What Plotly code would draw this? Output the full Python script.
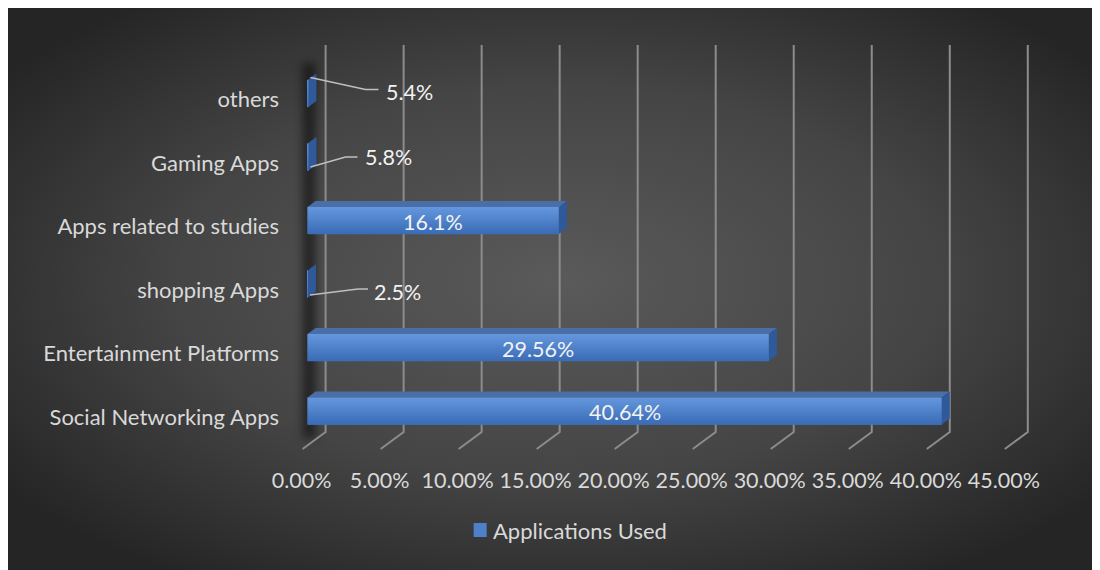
import base64
import plotly.graph_objects as go

# ---------------- data ----------------
categories = ["Social Networking Apps", "Entertainment Platforms", "shopping Apps",
              "Apps related to studies", "Gaming Apps", "others"]
label_values = [40.64, 29.56, 2.5, 16.1, 5.8, 5.4]          # values shown in the labels (%)
bar_lengths = [40.64, 29.56, 0.025, 16.1, 0.058, 0.054]     # drawn bar lengths (%), small ones near zero as in the picture
label_text = ["40.64%", "29.56%", "2.5%", "16.1%", "5.8%", "5.4%"]
tick_values = [0, 5, 10, 15, 20, 25, 30, 35, 40, 45]
tick_labels = [f"{v:.2f}%" for v in tick_values]
series_name = "Applications Used"

# ---------------- style / layout constants (figure pixels) ----------------
W, H = 1100, 570
L, R, T, B = 284.4, 66.8, 32, 123
X_MIN, X_MAX = -1, 47
Y_MIN, Y_MAX = -0.693, 5.843
PW, PH = W - L - R, H - T - B
PX_PER_UNIT = PW / (X_MAX - X_MIN)
BAR_W = 0.425
HALF_PX = BAR_W * PH / (Y_MAX - Y_MIN) / 2
DEPTH_X, DEPTH_Y = 8, 6
FONT = "Lato, 'Open Sans', sans-serif"
TXT = "#d9d9d9"
LBL = "#f2f2f2"
FRONT_TOP, FRONT_BOT = (0x66, 0x98, 0xdf), (0x3a, 0x6c, 0xb6)
N_STRIPS = 14

# leader lines for the labels that sit outside the (tiny) bars: pixel paths & label offsets
outside_style = {
    5: dict(path="M 2,16 L 57,4 L 70,4", xshift=101, yshift=2),
    4: dict(path="M 2,-10 L 37,0 L 49,0", xshift=80, yshift=0),
    2: dict(path="M 2,-11 L 50,-5 L 60,-5", xshift=90, yshift=-8),
}

# ---------------- background (radial gradient + wall shadow) ----------------
svg = f"""<svg xmlns='http://www.w3.org/2000/svg' width='{W}' height='{H}' viewBox='0 0 {W} {H}'>
<defs>
<radialGradient id='g' cx='50%' cy='48%' r='62%'>
<stop offset='0' stop-color='#5a5a5a'/><stop offset='0.55' stop-color='#454545'/><stop offset='1' stop-color='#252525'/>
</radialGradient>
<filter id='b' x='-80%' y='-10%' width='260%' height='120%'><feGaussianBlur stdDeviation='4.5'/></filter>
</defs>
<rect width='{W}' height='{H}' fill='url(#g)'/>
<rect x='295' y='55' width='13' height='375' fill='black' opacity='0.5' filter='url(#b)'/>
</svg>"""
svg_uri = "data:image/svg+xml;base64," + base64.b64encode(svg.encode()).decode()

fig = go.Figure()
fig.add_trace(go.Bar(
    x=bar_lengths, y=list(range(len(categories))), orientation="h",
    name=series_name, width=BAR_W,
    marker=dict(color="#4d80c9", line=dict(width=0)),
    hoverinfo="skip", showlegend=False,
))

shapes = []
annotations = []
floor_px = H - B
# 3D-style gridlines (back wall vertical + floor slant); screen y values in figure pixels
for v in tick_values:
    shapes.append(dict(type="path", xref="x", yref="paper", xsizemode="pixel", ysizemode="pixel",
                       xanchor=v, yanchor=0,
                       path=f"M 18,{floor_px - 37} L 18,{floor_px - 424} L -5,{floor_px - 441}",
                       line=dict(color="#8c8c8c", width=2), layer="below"))

dx_data = DEPTH_X / PX_PER_UNIT
for i, v in enumerate(bar_lengths):
    h = HALF_PX
    # front face vertical gradient
    for k in range(N_STRIPS):
        t = (k + 0.5) / N_STRIPS
        c = tuple(round(a + (b - a) * t) for a, b in zip(FRONT_TOP, FRONT_BOT))
        y1 = h - 2 * h * k / N_STRIPS
        y0 = h - 2 * h * (k + 1) / N_STRIPS
        shapes.append(dict(type="rect", xref="x", yref="y", ysizemode="pixel", yanchor=i,
                           x0=0, x1=v, y0=y0 - 0.3, y1=y1 + 0.3,
                           fillcolor=f"rgb{c}", line=dict(width=0)))
    # top face
    shapes.append(dict(type="path", xref="x", yref="y", ysizemode="pixel", yanchor=i,
                       path=f"M 0,{h} L {dx_data},{h + DEPTH_Y} L {v + dx_data},{h + DEPTH_Y} L {v},{h} Z",
                       fillcolor="#4a6fa6", line=dict(width=0)))
    # right face
    shapes.append(dict(type="path", xref="x", yref="y", xsizemode="pixel", ysizemode="pixel",
                       xanchor=v, yanchor=i,
                       path=f"M 0,{h} L {DEPTH_X},{h + DEPTH_Y} L {DEPTH_X},{-h + DEPTH_Y} L 0,{-h} Z",
                       fillcolor="#30599a", line=dict(width=0)))
    if i in outside_style:
        st = outside_style[i]
        shapes.append(dict(type="path", xref="x", yref="y", xsizemode="pixel", ysizemode="pixel",
                           xanchor=v, yanchor=i, path=st["path"],
                           line=dict(color="#bfbfbf", width=1.5)))
        annotations.append(dict(x=v, y=i, xref="x", yref="y", text=label_text[i],
                                showarrow=False, xshift=st["xshift"], yshift=st["yshift"],
                                xanchor="center", yanchor="middle",
                                font=dict(family=FONT, size=21.5, color=LBL)))
    else:
        annotations.append(dict(x=v / 2, y=i, xref="x", yref="y", text=label_text[i],
                                showarrow=False, xanchor="center", yanchor="middle", yshift=-1,
                                font=dict(family=FONT, size=21.5, color=LBL)))

# custom legend (square + text), placed in paper coordinates from figure pixels
def px2paper_x(px):
    return (px - L) / PW

def px2paper_y(py):
    return (H - B - py) / PH

shapes.append(dict(type="rect", xref="paper", yref="paper",
                   x0=px2paper_x(466), x1=px2paper_x(479), y0=px2paper_y(529), y1=px2paper_y(515),
                   fillcolor="#4d80c9", line=dict(width=0)))
annotations.append(dict(x=px2paper_x(483), y=px2paper_y(522), xref="paper", yref="paper",
                        text=series_name, showarrow=False, xanchor="left", yanchor="middle",
                        font=dict(family=FONT, size=22, color=TXT)))

fig.update_layout(
    width=W, height=H,
    margin=dict(l=L, r=R, t=T, b=B, pad=0),
    paper_bgcolor="#3a3a3a", plot_bgcolor="rgba(0,0,0,0)",
    font=dict(family=FONT, size=20, color=TXT),
    images=[dict(source=svg_uri, xref="paper", yref="paper",
                 x=-L / PW, y=1 + T / PH, sizex=W / PW, sizey=H / PH, sizing="stretch",
                 xanchor="left", yanchor="top", layer="below")],
    shapes=shapes, annotations=annotations,
    xaxis=dict(range=[X_MIN, X_MAX], tickvals=tick_values, ticktext=tick_labels,
               showgrid=False, zeroline=False, showline=False, ticks="",
               tickfont=dict(family=FONT, size=21.5, color=TXT),
               ticklabelstandoff=10, ticklabelshift=-6, fixedrange=True),
    yaxis=dict(range=[Y_MIN, Y_MAX], tickvals=list(range(len(categories))), ticktext=categories,
               showgrid=False, zeroline=False, showline=False, ticks="",
               tickfont=dict(family=FONT, size=22, color=TXT),
               ticklabelstandoff=12, ticklabelshift=6, fixedrange=True),
    showlegend=False,
)

fig.write_html("out.html")
